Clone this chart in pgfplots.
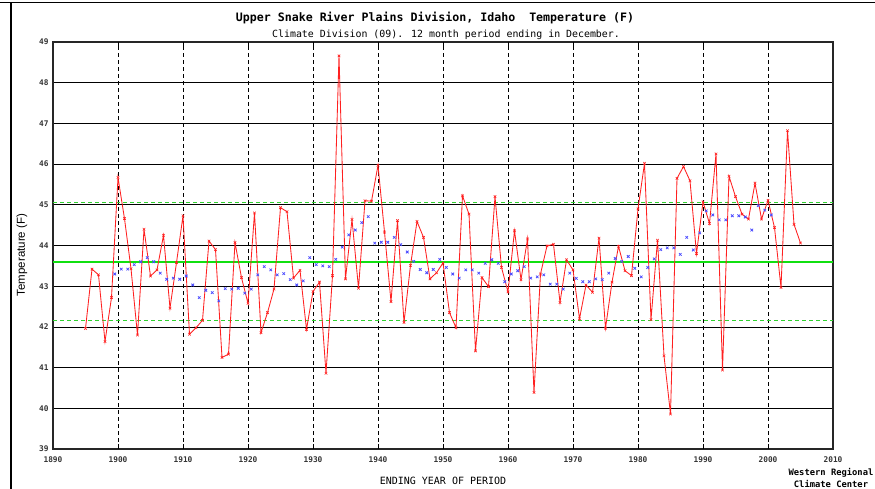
\documentclass[border=0pt]{standalone}
\usepackage{fontspec}
\setmainfont{DejaVu Sans Mono}
\newfontfamily\labelfont{Liberation Sans}
\usepackage{pgfplots}
\usepackage{pgfplotstable}
\pgfplotsset{compat=1.18}
\definecolor{wrcred}{HTML}{FF2020}
\definecolor{wrcblue}{HTML}{4A4AFF}
\definecolor{wrcgreen}{HTML}{10E010}
\definecolor{wrcdash}{HTML}{30D030}

% annual values
\pgfplotstableread{
year temp
1895 41.96
1896 43.42
1897 43.28
1898 41.64
1899 42.72
1900 45.67
1901 44.66
1902 43.43
1903 41.80
1904 44.40
1905 43.25
1906 43.40
1907 44.25
1908 42.46
1909 43.58
1910 44.73
1911 41.82
1912 41.98
1913 42.16
1914 44.11
1915 43.90
1916 41.25
1917 41.33
1918 44.07
1919 43.21
1920 42.58
1921 44.80
1922 41.86
1923 42.35
1924 42.93
1925 44.93
1926 44.83
1927 43.20
1928 43.39
1929 41.94
1930 42.87
1931 43.10
1932 40.86
1933 43.26
1934 48.66
1935 43.18
1936 44.64
1937 42.95
1938 45.10
1939 45.09
1940 45.97
1941 44.33
1942 42.62
1943 44.61
1944 42.11
1945 43.51
1946 44.59
1947 44.20
1948 43.18
1949 43.33
1950 43.57
1951 42.35
1952 41.98
1953 45.22
1954 44.77
1955 41.41
1956 43.21
1957 42.99
1958 45.20
1959 43.46
1960 42.86
1961 44.36
1962 43.16
1963 44.16
1964 40.39
1965 43.30
1966 43.99
1967 44.03
1968 42.60
1969 43.65
1970 43.40
1971 42.20
1972 43.03
1973 42.85
1974 44.18
1975 41.97
1976 43.10
1977 43.98
1978 43.38
1979 43.26
1980 44.90
1981 46.02
1982 42.18
1983 44.13
1984 41.29
1985 39.86
1986 45.65
1987 45.94
1988 45.59
1989 43.80
1990 45.07
1991 44.54
1992 46.25
1993 40.94
1994 45.70
1995 45.20
1996 44.77
1997 44.65
1998 45.53
1999 44.65
2000 45.11
2001 44.44
2002 42.97
2003 46.82
2004 44.52
2005 44.06
}\annual

% 10-year running mean, plotted at mid-period
\pgfplotstableread{
year temp
1899.5 43.30
1900.5 43.42
1901.5 43.42
1902.5 43.53
1903.5 43.60
1904.5 43.70
1905.5 43.60
1906.5 43.32
1907.5 43.17
1908.5 43.20
1909.5 43.17
1910.5 43.25
1911.5 43.03
1912.5 42.72
1913.5 42.90
1914.5 42.84
1915.5 42.64
1916.5 42.94
1917.5 42.93
1918.5 42.95
1919.5 42.83
1920.5 42.93
1921.5 43.28
1922.5 43.48
1923.5 43.40
1924.5 43.28
1925.5 43.31
1926.5 43.16
1927.5 43.03
1928.5 43.13
1929.5 43.70
1930.5 43.53
1931.5 43.50
1932.5 43.48
1933.5 43.66
1934.5 43.96
1935.5 44.26
1936.5 44.38
1937.5 44.56
1938.5 44.71
1939.5 44.06
1940.5 44.08
1941.5 44.08
1942.5 44.20
1943.5 44.02
1944.5 43.84
1945.5 43.61
1946.5 43.41
1947.5 43.33
1948.5 43.41
1949.5 43.66
1950.5 43.46
1951.5 43.30
1952.5 43.20
1953.5 43.40
1954.5 43.40
1955.5 43.32
1956.5 43.56
1957.5 43.65
1958.5 43.56
1959.5 43.11
1960.5 43.30
1961.5 43.38
1962.5 43.48
1963.5 43.20
1964.5 43.23
1965.5 43.28
1966.5 43.05
1967.5 43.05
1968.5 42.93
1969.5 43.32
1970.5 43.19
1971.5 43.11
1972.5 43.11
1973.5 43.18
1974.5 43.16
1975.5 43.32
1976.5 43.68
1977.5 43.61
1978.5 43.73
1979.5 43.44
1980.5 43.23
1981.5 43.46
1982.5 43.67
1983.5 43.90
1984.5 43.94
1985.5 43.94
1986.5 43.78
1987.5 44.20
1988.5 43.89
1989.5 44.31
1990.5 44.85
1991.5 44.75
1992.5 44.63
1993.5 44.63
1994.5 44.73
1995.5 44.73
1996.5 44.70
1997.5 44.38
1998.5 44.98
1999.5 44.87
2000.5 44.75
}\runmean

\begin{document}
\begin{tikzpicture}[x=1pt,y=1pt]
\path[use as bounding box] (0,0) rectangle (875,489);
% page frame remnants
\draw[line width=1pt] (0,486) -- (875,486);
\draw[line width=1.2pt] (11,486) -- (11,0);

\begin{axis}[
  at={(53pt,40pt)}, anchor=south west,
  scale only axis, width=780pt, height=407pt,
  xmin=1890, xmax=2010, ymin=39, ymax=49,
  xtick={1890,1900,...,2010}, ytick={39,40,...,49},
  /pgf/number format/1000 sep={},
  /pgf/number format/assume math mode=true,
  tick label style={font=\bfseries\fontsize{7.8}{8}\selectfont, color=black!80},
  xticklabel style={yshift=-4pt},
  yticklabel style={xshift=-1pt},
  tick align=inside, major tick length=5pt,
  ytick style={draw=none},
  xtick style={line width=0.6pt, black},
  ymajorgrids, grid style={black, line width=0.7pt},
  axis line style={line width=1.3pt, black!85},
  clip=false,
]
% decade guides
\pgfplotsinvokeforeach{1900,1910,...,2000}{
  \draw[black, line width=0.8pt, dash pattern=on 4pt off 3pt] (axis cs:#1,39) -- (axis cs:#1,49);
}
% mean and +/- one standard deviation
\draw[wrcgreen, line width=1.6pt] (axis cs:1890,43.6) -- (axis cs:2010,43.6);
\draw[wrcdash, line width=0.8pt, dash pattern=on 4pt off 3pt] (axis cs:1890,45.05) -- (axis cs:2010,45.05);
\draw[wrcdash, line width=0.8pt, dash pattern=on 4pt off 3pt] (axis cs:1890,42.15) -- (axis cs:2010,42.15);
% annual series
\addplot[wrcred, line width=0.85pt, mark=x, mark size=1.8pt, mark options={line width=0.6pt}] table[x=year,y=temp] {\annual};
% running mean
\addplot[only marks, wrcblue, mark=x, mark size=1.8pt, mark options={line width=0.75pt}] table[x=year,y=temp] {\runmean};
\end{axis}

\node[font=\bfseries\fontsize{11.6}{13}\selectfont] at (435,471) {Upper Snake River Plains Division, Idaho\ \ Temperature (F)};
\node[font=\fontsize{9.9}{11}\selectfont] at (446,454) {Climate Division (09). 12 month period ending in December.};
\node[font=\fontsize{10}{11}\selectfont] at (443,8) {ENDING YEAR OF PERIOD};
\node[font=\labelfont\fontsize{11.5}{12}\selectfont, rotate=90] at (22,234) {Temperature (F)};
\node[font=\bfseries\fontsize{8.8}{10}\selectfont] at (831,16) {Western Regional};
\node[font=\bfseries\fontsize{8.8}{10}\selectfont] at (831,5) {Climate Center};
\end{tikzpicture}
\end{document}
